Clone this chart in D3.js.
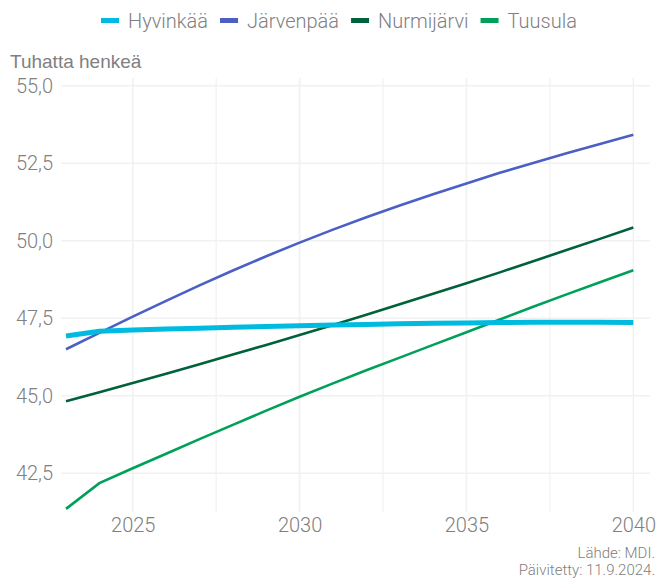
<!DOCTYPE html>
<html>
<head>
<meta charset="utf-8">
<script src="https://cdn.jsdelivr.net/npm/d3@7"></script>
<style>
  body { margin: 0; background: #fff; }
  svg { display: block; }
</style>
</head>
<body>
<div id="chart"></div>
<script>
// vuodet ja ennusteet (tuhatta henkeä)
var years = [2023, 2024, 2025, 2026, 2027, 2028, 2029, 2030, 2031, 2032, 2033, 2034, 2035, 2036, 2037, 2038, 2039, 2040];

var hyvinkaa   = [46.93, 47.08, 47.12, 47.15, 47.18, 47.21, 47.23, 47.26, 47.28, 47.30, 47.32, 47.34, 47.35, 47.36, 47.37, 47.37, 47.37, 47.36];
var jarvenpaa  = [46.50, 47.03, 47.55, 48.06, 48.56, 49.04, 49.50, 49.94, 50.36, 50.76, 51.14, 51.50, 51.85, 52.19, 52.51, 52.82, 53.12, 53.42];
var nurmijarvi = [44.82, 45.11, 45.41, 45.71, 46.02, 46.33, 46.64, 46.96, 47.28, 47.61, 47.95, 48.29, 48.63, 48.98, 49.34, 49.70, 50.06, 50.43];
var tuusula    = [41.35, 42.18, 42.66, 43.13, 43.60, 44.06, 44.52, 44.97, 45.40, 45.82, 46.23, 46.64, 47.05, 47.46, 47.87, 48.27, 48.66, 49.05];

var seriesNames = ["Hyvinkää", "Järvenpää", "Nurmijärvi", "Tuusula"];
var seriesValues = [hyvinkaa, jarvenpaa, nurmijarvi, tuusula];
var colors = ["#00bbe0", "#4b5fc4", "#00613a", "#00a05a"];
var widths = [5, 2.6, 2.6, 2.6];

var yTicks = [42.5, 45, 47.5, 50, 52.5, 55];
var xTicks = [2025, 2030, 2035, 2040];
var xMinor = [2027.5, 2032.5, 2037.5];

var W = 658, H = 579;
var font = "Roboto, Lato, sans-serif";
var grey = "#808080";

var svg = d3.select("#chart").append("svg")
    .attr("width", W)
    .attr("height", H);

var x = d3.scaleLinear().domain([2022.85, 2040.5]).range([61, 650]);
var y = d3.scaleLinear().domain([41.25, 55.25]).range([512, 78]);

// grid
var grid = svg.append("g");
grid.selectAll("line.h")
    .data(yTicks)
    .enter().append("line")
    .attr("x1", 61).attr("x2", 650)
    .attr("y1", function(d) { return y(d); })
    .attr("y2", function(d) { return y(d); })
    .attr("stroke", "#f1f1f1")
    .attr("stroke-width", 1.6);

grid.selectAll("line.v")
    .data(xTicks.concat(xMinor))
    .enter().append("line")
    .attr("y1", 78).attr("y2", 512)
    .attr("x1", function(d) { return x(d); })
    .attr("x2", function(d) { return x(d); })
    .attr("stroke", "#f1f1f1")
    .attr("stroke-width", function(d) { return xTicks.indexOf(d) >= 0 ? 1.6 : 1.2; });

// axes (labels only)
var fmt = function(d) { return d3.format(".1f")(d).replace(".", ","); };

var yAxis = svg.append("g")
    .attr("transform", "translate(53,0)")
    .call(d3.axisLeft(y).tickValues(yTicks).tickFormat(fmt).tickSize(0).tickPadding(0));
yAxis.select(".domain").remove();
yAxis.selectAll("text")
    .attr("fill", grey)
    .style("font-family", font)
    .style("font-weight", 300)
    .style("font-size", "20px");

var xAxis = svg.append("g")
    .attr("transform", "translate(0,514)")
    .call(d3.axisBottom(x).tickValues(xTicks).tickFormat(d3.format("d")).tickSize(0).tickPadding(4));
xAxis.select(".domain").remove();
xAxis.selectAll("text")
    .attr("fill", grey)
    .style("font-family", font)
    .style("font-weight", 300)
    .style("font-size", "20px");

// lines
var line = d3.line()
    .x(function(d, i) { return x(years[i]); })
    .y(function(d) { return y(d); });

var order = [1, 2, 3, 0];
order.forEach(function(k) {
    svg.append("path")
        .attr("d", line(seriesValues[k]))
        .attr("fill", "none")
        .attr("stroke", colors[k])
        .attr("stroke-width", widths[k]);
});

// y title
svg.append("text")
    .attr("x", 10).attr("y", 68)
    .attr("fill", "#808080")
    .style("font-family", "'Liberation Sans', Arial, sans-serif")
    .style("font-size", "19px")
    .text("Tuhatta henkeä");

// legend
var lg = svg.append("g");
var lx = 101;
seriesNames.forEach(function(name, i) {
    lg.append("rect")
        .attr("x", lx).attr("y", 18)
        .attr("width", 18).attr("height", 5)
        .attr("fill", colors[i]);
    var t = lg.append("text")
        .attr("x", lx + 27).attr("y", 28)
        .attr("fill", grey)
        .style("font-family", font)
        .style("font-weight", 300)
        .style("font-size", "20px")
        .text(name);
    lx += 27 + t.node().getComputedTextLength() + 12;
});

// caption
svg.append("text")
    .attr("x", 655).attr("y", 558)
    .attr("text-anchor", "end")
    .attr("fill", grey)
    .style("font-family", font)
    .style("font-weight", 300)
    .style("font-size", "15px")
    .text("Lähde: MDI.");
svg.append("text")
    .attr("x", 655).attr("y", 575)
    .attr("text-anchor", "end")
    .attr("fill", grey)
    .style("font-family", font)
    .style("font-weight", 300)
    .style("font-size", "15px")
    .text("Päivitetty: 11.9.2024.");
</script>
</body>
</html>
